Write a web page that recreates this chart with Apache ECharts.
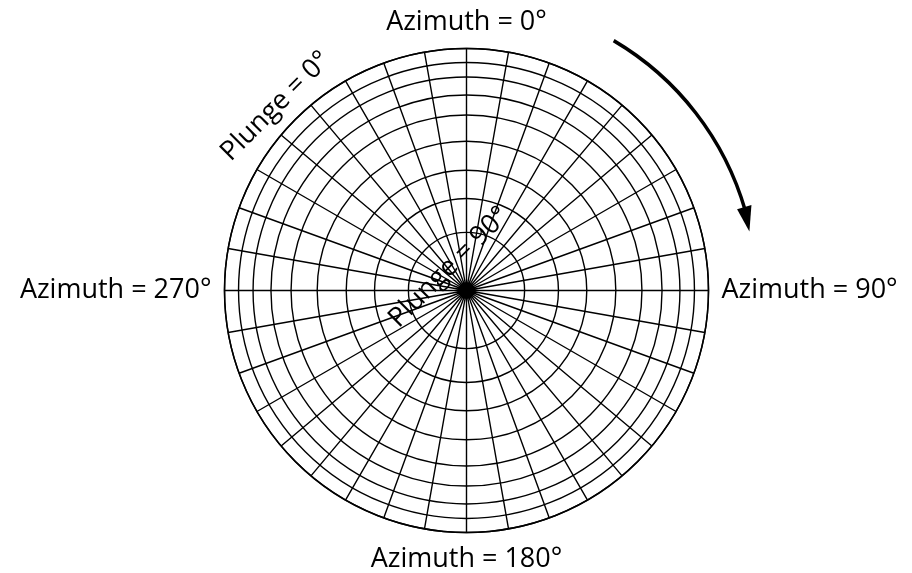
<!DOCTYPE html>
<html>
<head>
<meta charset="utf-8">
<script src="https://cdn.jsdelivr.net/npm/echarts@6/dist/echarts.min.js"></script>
<style>
  html, body { margin: 0; padding: 0; background: #fff; }
  #main { width: 912px; height: 573px; }
</style>
</head>
<body>
<div id="main"></div>
<script>
// plunge circles (80..0 deg) and where they sit, as a fraction of the net radius
var plungeLevels = [80, 70, 60, 50, 40, 30, 20, 10, 0];
var circleRadii = [0.24, 0.38, 0.497, 0.617, 0.725, 0.808, 0.882, 0.942, 1];
// azimuth spokes every 10 deg, labels at the four quarters
var azimuthStep = 10;
var azimuthLabels = [0, 90, 180, 270];
// plunge annotations: [radius, azimuth, text]
var plungeNotes = [
    [0.12, 323, 'Plunge = 90°'],
    [1.096, 314, 'Plunge = 0°']
];

var CX = 466.5, CY = 290.5, R = 242;
var FONT = '"Open Sans", "Noto Sans", sans-serif';
var lineCol = '#000';

var myChart = echarts.init(document.getElementById('main'));

// 把罗盘角度换成像素
function pt(r, deg) {
    var a = deg * Math.PI / 180;
    return [CX + r * Math.sin(a), CY - r * Math.cos(a)];
}

var arrowR = 290;
var tip = pt(arrowR - 1, 78.2);
var b1 = pt(arrowR - 7.5, 73.3);
var b2 = pt(arrowR + 7.5, 73.3);

myChart.setOption({
    animation: false,
    backgroundColor: '#fff',
    polar: {
        center: [CX, CY],
        radius: R
    },
    angleAxis: {
        type: 'value',
        min: 0,
        max: 360,
        interval: azimuthStep,
        startAngle: 90,
        clockwise: true,
        axisLine: { show: true, lineStyle: { color: lineCol, width: 1.5 } },
        axisTick: { show: false },
        splitLine: { show: true, lineStyle: { color: lineCol, width: 1.4 } },
        axisLabel: {
            margin: 13,
            color: '#000',
            fontSize: 27,
            fontFamily: FONT,
            formatter: function (v) {
                return azimuthLabels.indexOf(v) >= 0 ? 'Azimuth = ' + v + '°' : '';
            }
        }
    },
    radiusAxis: {
        type: 'value',
        min: 0,
        max: 1,
        axisLine: { show: false },
        axisLabel: { show: false },
        axisTick: { show: false, customValues: circleRadii },
        splitLine: { show: true, lineStyle: { color: lineCol, width: 1.4 } }
    },
    series: [{
        type: 'scatter',
        coordinateSystem: 'polar',
        clip: false,
        symbolSize: 0,
        silent: true,
        itemStyle: { opacity: 1, color: '#000' },
        data: plungeNotes.map(function (d) { return { value: [d[0], d[1]], name: d[2] }; }),
        label: {
            show: true,
            position: 'inside',
            rotate: 45,
            color: '#000',
            textBorderWidth: 0,
            fontSize: 27,
            fontFamily: FONT,
            formatter: '{b}'
        }
    }],
    graphic: [{
        type: 'arc',
        shape: {
            cx: CX, cy: CY, r: arrowR,
            startAngle: (30.5 - 90) * Math.PI / 180,
            endAngle: (74 - 90) * Math.PI / 180,
            clockwise: true
        },
        style: { fill: null, stroke: '#000', lineWidth: 3.5 }
    }, {
        type: 'polygon',
        shape: { points: [tip, b1, b2] },
        style: { fill: '#000' }
    }]
});
</script>
</body>
</html>
